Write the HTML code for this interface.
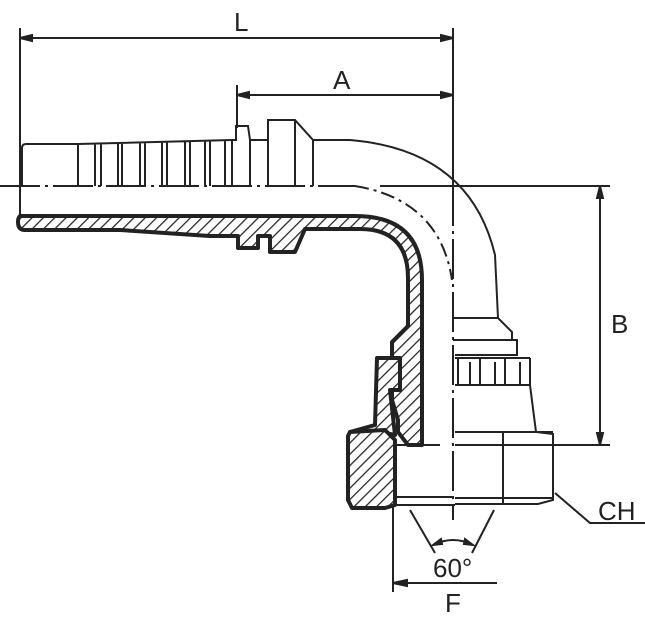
<!DOCTYPE html>
<html><head><meta charset="utf-8"><style>html,body{margin:0;padding:0;background:#fff}svg{display:block}</style></head><body>
<svg width="645" height="624" viewBox="0 0 645 624" xmlns="http://www.w3.org/2000/svg" font-family="Liberation Sans, sans-serif" fill="none" stroke="#222">
<defs>
<pattern id="h" width="8" height="8" patternUnits="userSpaceOnUse" patternTransform="rotate(45)">
<rect width="8" height="8" fill="#fff" stroke="none"/><line x1="0" y1="0" x2="0" y2="8" stroke="#222" stroke-width="2.5"/>
</pattern>
</defs>
<g stroke-width="2">
<!-- L dim -->
<line x1="20" y1="28" x2="20" y2="216"/>
<line x1="453" y1="28" x2="453" y2="186"/>
<line x1="20" y1="38" x2="453" y2="38"/>
<path d="M20,38 l12,-3 v6z M453,38 l-12,-3 v6z" fill="#222"/>
<!-- A dim -->
<line x1="237" y1="85" x2="237" y2="128"/>
<line x1="237" y1="95" x2="453" y2="95"/>
<path d="M237,95 l12,-3 v6z M453,95 l-12,-3 v6z" fill="#222"/>
<!-- horizontal centerline -->
<line x1="0" y1="186" x2="355" y2="186" stroke-dasharray="40,5,3,5"/>
<line x1="380" y1="186" x2="610" y2="186"/>
<!-- B dim -->
<line x1="600" y1="188" x2="600" y2="443"/>
<path d="M600,186 l-3,12 h6z M600,445 l-3,-12 h6z" fill="#222"/>
<line x1="455" y1="445" x2="610" y2="445"/>
<!-- vertical centerline -->
<line x1="453" y1="186" x2="453" y2="520" stroke-dasharray="40,5,3,5"/>
<path d="M355,186 Q440,200 452,280" stroke-dasharray="14,5,3,5"/>
<!-- hose tail outer -->
<path d="M22,186 V148 Q22,144 26,144 H78 V186"/>
<path d="M78,144 L232,140 M95,143.5 V186 M101,143.5 V186 M118,143 V186 M122,143 V186 M140,142.5 V186 M145,142.5 V186 M162,142 V186 M167,142 V186 M185,141.5 V186 M190,141.5 V186 M205,141 V186 M210,141 V186 M225,140.5 V186"/>
<path d="M232,186 V140 L236,140 V126 H248 L250,140 H268 V186 M250,140 V186"/>
<path d="M268,140 V120 H295 L313,140 V186 M295,120 V186"/>
<path d="M313,140 H350 Q470,150 495,255 L498,318 H453"/>
<!-- fitting body right -->
<path d="M453,318 H498 L512,332 V340 H455 M453,340 H517 V355 H455"/>
<path d="M455,358 H530 M458,358 V385 M470,385 V362 M480,358 V385 M495,385 V362 M505,358 V385 M520,385 V362 M530,358 V385 H455"/>
<path d="M530,385 L536,432 L553,434 V500 L538,504 H455"/>
<line x1="503" y1="432" x2="503" y2="504"/>
<line x1="455" y1="432" x2="553" y2="432"/>
<line x1="455" y1="498" x2="553" y2="498"/>
<!-- section -->
<path d="M20,216 H355 Q422,216 422,280 V445 H408 L398,432 V420 L392,400 V342 L408,326 V278 Q408,229 360,229 H305 L295,252 H270 V236 H258 V248 H238 V236 H210 L120,230 H25 Q18,230 18,222 Q18,216 22,216z" fill="url(#h)" stroke-width="4" stroke-linejoin="round"/>
<path d="M377,358 H400 V390 H390 L395,435 L385,433 L385,455 L350,432 L375,425z" fill="url(#h)" stroke-width="4" stroke-linejoin="round"/>
<path d="M350,432 L385,430 L395,440 V505 L385,508 H352 L348,500 V436z" fill="url(#h)" stroke-width="4" stroke-linejoin="round"/>
<path d="M395,445 H440 M393,497 H453 M393,505 H455"/>
<!-- 60 deg -->
<line x1="410" y1="510" x2="435" y2="553"/>
<line x1="494" y1="510" x2="472" y2="553"/>
<path d="M433,545 Q453,535 473,545"/>
<path d="M433,545 l8,-6 1,5z M473,545 l-8,-6 -1,5z" fill="#222"/>
<!-- F dim -->
<line x1="393" y1="505" x2="393" y2="592"/>
<line x1="393" y1="583" x2="497" y2="583"/>
<path d="M393,583 l14,-3 v6z" fill="#222"/>
<!-- CH leader -->
<path d="M555,493 L590,523 H645"/>
</g>
<g fill="#222" stroke="none" font-size="26">
<text x="234" y="31">L</text>
<text x="333" y="89">A</text>
<text x="611" y="333">B</text>
<text x="598" y="520">CH</text>
<text x="433" y="577">60°</text>
<text x="445" y="612">F</text>
</g>
</svg>
</body></html>
